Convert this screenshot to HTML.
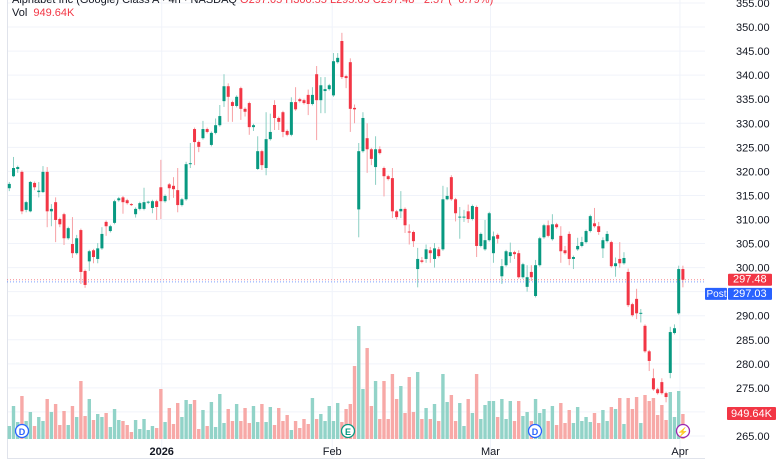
<!DOCTYPE html>
<html><head><meta charset="utf-8">
<style>
html,body{margin:0;padding:0;background:#fff;width:780px;height:470px;overflow:hidden;font-family:"Liberation Sans",sans-serif;}
svg{display:block}
</style></head>
<body>
<svg id="chart" width="780" height="470" viewBox="0 0 780 470" xmlns="http://www.w3.org/2000/svg">
  <g id="grid"></g>
  <g id="vols"></g>
  <g id="candles"></g>
  <g id="yaxis"></g>
  <g id="xaxis"></g>
  <text x="12" y="3" font-size="11" fill="#131722">Alphabet Inc (Google) Class A · 4h · NASDAQ <tspan fill="#f23645">O297.05 H300.55 L295.05 C297.48 −2.57 (−0.79%)</tspan></text>
  <text x="12" y="16" font-size="11" fill="#131722">Vol <tspan fill="#f23645" dx="3">949.64K</tspan></text>
</svg>
<script>
const opens=[316.5,319.0,320.5,319.9,312.0,311.7,317.6,315.7,315.7,319.9,311.7,313.6,310.1,311.1,306.1,304.9,303.0,307.8,299.3,301.3,303.6,301.8,304.0,309.5,307.6,309.3,314.0,314.6,314.0,313.2,311.1,312.2,312.2,313.5,312.4,313.8,316.7,313.8,317.3,317.0,316.1,313.0,314.2,321.5,328.8,326.1,326.9,328.8,325.5,328.0,329.6,334.6,337.7,334.4,333.6,337.3,333.0,334.2,329.2,320.5,324.2,320.7,326.7,333.8,331.1,332.3,328.4,327.6,334.4,335.0,334.8,335.9,334.0,340.2,334.8,336.7,337.1,335.8,342.7,347.1,339.8,342.7,333.2,312.1,324.2,326.9,324.6,320.9,324.6,320.7,319.0,318.6,311.7,311.7,312.2,307.5,307.4,299.7,301.5,301.8,303.6,301.8,303.8,303.8,314.2,318.8,314.2,310.4,310.4,311.7,310.1,312.6,304.5,303.8,305.7,303.0,306.8,298.2,300.5,302.4,303.2,303.0,298.0,296.0,299.1,294.1,300.5,306.3,308.8,305.9,309.0,306.6,303.6,307.0,301.8,303.8,304.5,305.3,307.6,309.2,308.6,304.0,305.5,305.3,300.3,301.8,300.9,299.1,292.4,293.5,290.4,287.9,282.6,277.0,274.7,276.2,273.9,278.1,286.4,290.5,299.7];
const closes=[317.4,320.7,320.9,311.7,313.6,317.8,316.7,316.0,319.9,311.7,312.2,309.9,309.0,306.1,308.2,303.0,306.1,299.1,296.4,303.4,302.2,304.0,307.0,308.6,308.6,313.8,314.4,313.6,313.4,313.0,312.2,313.4,313.6,313.7,313.8,312.6,313.8,314.9,316.5,316.3,313.0,314.2,321.5,321.7,326.1,325.1,328.8,328.2,328.0,329.6,331.5,337.7,335.5,333.6,335.5,333.0,332.4,329.2,329.6,324.2,321.3,326.7,328.2,331.1,330.3,328.2,327.6,334.4,332.9,334.6,334.2,334.0,335.9,334.8,337.9,337.1,337.9,342.9,343.6,339.6,339.4,333.0,332.9,324.2,331.1,324.6,322.6,324.6,323.8,319.0,318.4,311.7,310.5,312.2,308.8,307.3,305.5,301.8,301.2,303.8,303.0,304.0,302.4,314.2,314.9,314.2,311.3,310.6,310.6,310.1,312.8,304.5,307.0,305.7,311.3,306.5,306.0,300.3,303.4,303.2,302.8,298.0,300.7,298.0,298.0,300.5,306.1,308.8,306.6,309.0,308.4,303.4,303.0,301.8,302.2,304.5,305.3,307.6,310.7,308.6,307.4,305.7,307.0,300.3,300.9,300.9,302.0,292.2,290.1,290.5,290.6,282.6,280.6,274.7,273.9,273.9,273.1,286.6,287.4,299.7,297.48];
const highs=[317.8,323.0,321.2,320.2,313.9,318.0,317.9,317.8,321.1,320.9,313.2,314.6,310.4,311.4,308.5,310.5,306.8,308.1,299.6,303.7,303.9,305.1,308.4,309.8,308.9,314.1,314.7,314.9,314.3,313.4,312.5,313.7,316.6,313.9,314.1,314.1,322.4,315.2,317.6,318.8,320.7,314.5,322.0,325.9,329.1,326.4,330.5,329.1,328.3,331.0,333.8,340.2,338.3,334.7,335.8,337.6,333.3,334.5,329.9,327.3,324.5,332.3,332.0,334.8,331.4,332.6,328.7,335.4,337.5,335.3,335.1,337.0,337.5,341.9,339.6,339.6,338.2,344.6,344.6,348.8,340.1,343.5,333.9,325.9,332.3,330.0,324.9,327.3,325.2,321.0,319.3,320.7,312.0,315.9,312.5,309.0,307.7,304.1,302.2,304.8,304.3,305.1,304.3,317.0,316.7,319.2,314.5,312.6,312.0,313.1,313.1,312.9,307.3,309.9,311.6,307.5,307.1,301.8,303.7,305.2,303.5,303.6,301.0,300.5,300.5,301.6,306.4,309.1,309.8,311.1,309.3,308.6,304.5,307.5,302.5,306.2,306.4,307.9,311.0,312.4,309.5,306.3,307.6,305.6,302.1,305.3,303.2,299.8,292.7,295.6,291.4,288.2,282.9,279.0,275.0,277.0,274.2,287.7,288.2,300.4,300.4];
const lows=[315.9,318.8,319.7,311.1,311.5,311.5,316.1,314.6,315.5,308.4,308.6,305.3,308.4,304.7,305.8,302.0,302.7,296.6,295.8,299.3,300.9,300.9,303.7,306.6,307.3,309.0,313.7,311.2,313.1,312.8,310.4,311.9,311.9,313.2,311.3,309.9,310.1,313.5,314.0,314.5,311.5,312.7,313.9,320.7,321.3,324.0,326.6,327.9,325.2,327.7,329.3,333.4,330.3,330.3,333.3,330.7,331.4,327.6,328.4,320.3,320.3,319.2,326.4,328.6,328.6,327.1,327.3,327.3,332.6,334.3,333.9,331.7,333.7,326.5,332.1,332.1,336.8,335.5,342.4,339.2,337.3,328.2,330.0,306.3,323.9,319.7,321.3,317.2,323.5,314.8,318.1,310.3,310.0,310.3,307.2,304.8,304.3,295.9,300.9,301.0,301.0,300.0,302.1,303.5,314.0,313.9,309.6,306.0,309.5,309.3,309.8,302.2,304.2,303.5,305.4,301.0,305.0,296.6,300.2,301.0,301.8,297.7,297.7,295.0,297.2,293.8,300.2,306.0,306.3,305.6,308.1,301.0,302.7,300.5,299.7,303.5,304.2,305.0,307.3,308.3,306.8,302.0,305.2,300.0,298.1,300.0,300.6,291.8,289.8,289.3,288.6,282.3,278.5,274.4,273.6,273.6,272.0,277.0,286.1,290.2,295.9];
const volumes=[13,33,17,43,18,27,13,22,18,40,27,35,14,28,14,33,22,58,23,40,19,25,22,26,12,30,19,18,14,7,19,10,20,9,13,11,50,17,31,15,36,22,39,35,39,10,29,13,37,12,45,16,30,18,35,18,31,16,33,17,35,17,32,14,31,18,24,9,18,11,20,15,41,20,25,18,33,18,36,17,30,35,73,113,50,91,33,58,20,58,20,65,40,53,26,62,27,67,20,31,20,35,18,65,37,44,18,36,13,40,26,65,20,34,38,38,22,40,20,38,18,38,23,27,18,40,26,30,18,33,14,36,16,29,16,32,18,22,17,26,16,29,18,32,30,41,15,41,30,42,16,44,38,41,24,34,19,47,22,48,25];
const priceTicks=[355,350,345,340,335,330,325,320,315,310,305,300,290,285,280,275,265];
const timeLabels=["2026","Feb","Mar","Apr"];
const timeIdx=[36.2,76.7,114.3,159.3];

const NS="http://www.w3.org/2000/svg";
const pMax=355, pxPer=4.811, top0=3;
function yP(v){return top0+(pMax-v)*pxPer;}
function xC(i){return 9.3+i*4.21;}
const volBase=439, volMaxH=113, vMax=Math.max(...volumes);
function yV(v){return volBase-v/vMax*volMaxH;}
function el(tag,attrs,parent){const e=document.createElementNS(NS,tag);for(const k in attrs)e.setAttribute(k,attrs[k]);parent.appendChild(e);return e;}

const grid=document.getElementById('grid');
for(let v=355;v>=265;v-=5){
  const g=el('line',{x1:7,x2:705,y1:yP(v),y2:yP(v),stroke:'#f0f3fa','stroke-width':1},grid);
  
  
}
timeIdx.forEach(t=>{
  const g=el('line',{x1:xC(t),x2:xC(t),y1:0,y2:458,stroke:'#f0f3fa','stroke-width':1},grid);
  
  
});
const lb=el('line',{x1:7.5,x2:7.5,y1:0,y2:458,stroke:'#e0e3eb'},grid);


const bb=el('line',{x1:7,x2:705,y1:458.5,y2:458.5,stroke:'#e0e3eb'},grid);



const vg=document.getElementById('vols');
volumes.forEach((v,i)=>{
  const up=closes[i]>=opens[i];
  const r=el('rect',{x:xC(i)-1.7,y:yV(v),width:3.4,height:volBase-yV(v),fill:up?'#92d3c8':'#f7a9a7'},vg);
  
  
});

const cg=document.getElementById('candles');
opens.forEach((o,i)=>{
  const c=closes[i], up=c>=o, col=up?'#089981':'#f23645', x=xC(i);
  const w=el('line',{x1:x,x2:x,y1:yP(highs[i]),y2:yP(lows[i]),stroke:up?'#8ccfc3':'#f7a1a5','stroke-width':1},cg);
  
  
  const t=yP(Math.max(o,c)), b=yP(Math.min(o,c));
  const r=el('rect',{x:x-1.5,y:t,width:3,height:Math.max(1,b-t),fill:col},cg);
  
  
});

const lastC=closes[closes.length-1], postP=297.03;
const l1=el('line',{x1:7,x2:705,y1:yP(lastC),y2:yP(lastC),stroke:'#f23645','stroke-dasharray':'1 2','stroke-width':1,opacity:0.6},cg);


const l2=el('line',{x1:7,x2:705,y1:yP(postP),y2:yP(postP),stroke:'#2962ff','stroke-dasharray':'1 2','stroke-width':1,opacity:0.6},cg);



const ya=document.getElementById('yaxis');
priceTicks.forEach(v=>{
  const t=el('text',{x:736,y:yP(v)+4,'font-size':11,fill:'#131722'},ya);
  t.textContent=v.toFixed(2);
  
  
});
function tag(x,y,w,h,fill,txt,name,tx,fs){
  const r=el('rect',{x:x,y:y,width:w,height:h,fill:fill,rx:1},ya);
  
  
  const t=el('text',{x:tx,y:y+h-3,'font-size':fs||11,fill:'#fff'},ya);
  t.textContent=txt;
  
  
}
tag(728,yP(lastC)-6,44,12,'#f23645',lastC.toFixed(2),'last-price-tag',733);
tag(728,yP(postP)+6,44,12,'#2962ff',postP.toFixed(2),'post-price-tag',733);
tag(705,yP(postP)+6,22,12,'#2962ff','Post','post-label',706.5,10);
tag(727,yV(volumes[volumes.length-1])-7,49,13,'#f23645','949.64K','volume-tag',731);

const xa=document.getElementById('xaxis');
timeLabels.forEach((s,k)=>{
  const t=el('text',{x:xC(timeIdx[k]),y:455,'font-size':11,fill:'#131722','text-anchor':'middle','font-weight':k===0?'bold':'normal'},xa);
  t.textContent=s;
  
  
});
function marker(x,label,color,name){
  const c=el('circle',{cx:x,cy:431,r:6.5,fill:'#fff',stroke:color,'stroke-width':1.3},xa);
  
  
  const t=el('text',{x:x,y:435,'font-size':9,fill:color,'text-anchor':'middle','font-weight':'bold'},xa);
  t.textContent=label;
  
  
}
marker(22,'D','#2962ff','dividend-marker-1');
marker(535,'D','#2962ff','dividend-marker-2');
marker(348,'E','#089981','earnings-marker');
marker(683,'⚡','#9c27b0','event-marker');
</script>
</body></html>
